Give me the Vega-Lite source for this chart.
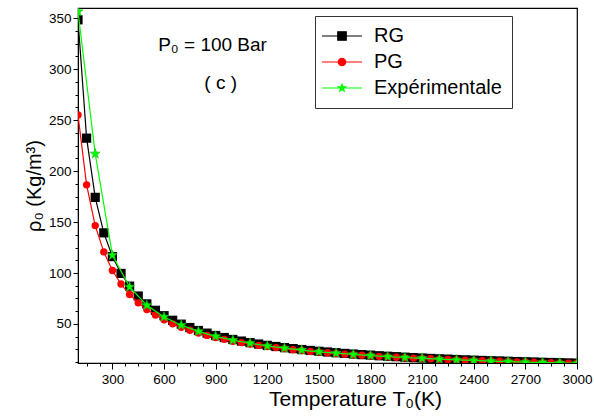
{
  "$schema": "https://vega.github.io/schema/vega-lite/v6.json",
  "width": 499,
  "height": 355,
  "autosize": {"type": "none"},
  "padding": {"left": 78, "top": 8, "right": 17, "bottom": 54},
  "background": "white",
  "config": {
    "view": {"stroke": "black", "strokeWidth": 1.2},
    "font": "Liberation Sans"
  },
  "datasets": {
    "rg": [
      {"T":100,"rho":348.4},{"T":150,"rho":232.3},{"T":200,"rho":174.2},{"T":250,"rho":139.4},{"T":300,"rho":116.1},
      {"T":350,"rho":99.6},{"T":400,"rho":87.1},{"T":450,"rho":77.4},{"T":500,"rho":69.7},{"T":550,"rho":63.4},
      {"T":600,"rho":58.1},{"T":650,"rho":53.6},{"T":700,"rho":49.8},{"T":750,"rho":46.5},{"T":800,"rho":43.6},
      {"T":850,"rho":41.0},{"T":900,"rho":38.7},{"T":950,"rho":36.7},{"T":1000,"rho":34.8},{"T":1050,"rho":33.2},
      {"T":1100,"rho":31.7},{"T":1150,"rho":30.3},{"T":1200,"rho":29.0},{"T":1250,"rho":27.9},{"T":1300,"rho":26.8},
      {"T":1350,"rho":25.8},{"T":1400,"rho":24.9},{"T":1450,"rho":24.0},{"T":1500,"rho":23.2},{"T":1550,"rho":22.5},
      {"T":1600,"rho":21.8},{"T":1650,"rho":21.1},{"T":1700,"rho":20.5},{"T":1750,"rho":19.9},{"T":1800,"rho":19.4},
      {"T":1850,"rho":18.8},{"T":1900,"rho":18.3},{"T":1950,"rho":17.9},{"T":2000,"rho":17.4},{"T":2050,"rho":17.0},
      {"T":2100,"rho":16.6},{"T":2150,"rho":16.2},{"T":2200,"rho":15.8},{"T":2250,"rho":15.5},{"T":2300,"rho":15.1},
      {"T":2350,"rho":14.8},{"T":2400,"rho":14.5},{"T":2450,"rho":14.2},{"T":2500,"rho":13.9},{"T":2550,"rho":13.7},
      {"T":2600,"rho":13.4},{"T":2650,"rho":13.1},{"T":2700,"rho":12.9},{"T":2750,"rho":12.7},{"T":2800,"rho":12.4},
      {"T":2850,"rho":12.2},{"T":2900,"rho":12.0},{"T":2950,"rho":11.8},{"T":3000,"rho":11.6}
    ],
    "pg": [
      {"T":100,"rho":255.0},{"T":150,"rho":186.5},{"T":200,"rho":146.5},{"T":250,"rho":120.7},{"T":300,"rho":102.5},
      {"T":350,"rho":89.2},{"T":400,"rho":78.9},{"T":450,"rho":70.7},{"T":500,"rho":64.1},{"T":550,"rho":58.7},
      {"T":600,"rho":54.1},{"T":650,"rho":50.1},{"T":700,"rho":46.7},{"T":750,"rho":43.8},{"T":800,"rho":41.2},
      {"T":850,"rho":38.8},{"T":900,"rho":36.7},{"T":950,"rho":34.9},{"T":1000,"rho":33.1},{"T":1050,"rho":31.7},
      {"T":1100,"rho":30.3},{"T":1150,"rho":29.0},{"T":1200,"rho":27.8},{"T":1250,"rho":26.8},{"T":1300,"rho":25.8},
      {"T":1350,"rho":24.8},{"T":1400,"rho":24.0},{"T":1450,"rho":23.1},{"T":1500,"rho":22.4},{"T":1550,"rho":21.7},
      {"T":1600,"rho":21.1},{"T":1650,"rho":20.4},{"T":1700,"rho":19.8},{"T":1750,"rho":19.3},{"T":1800,"rho":18.8},
      {"T":1850,"rho":18.2},{"T":1900,"rho":17.8},{"T":1950,"rho":17.4},{"T":2000,"rho":16.9},{"T":2050,"rho":16.5},
      {"T":2100,"rho":16.1},{"T":2150,"rho":15.8},{"T":2200,"rho":15.4},{"T":2250,"rho":15.1},{"T":2300,"rho":14.7},
      {"T":2350,"rho":14.4},{"T":2400,"rho":14.1},{"T":2450,"rho":13.9},{"T":2500,"rho":13.6},{"T":2550,"rho":13.4},
      {"T":2600,"rho":13.1},{"T":2650,"rho":12.8},{"T":2700,"rho":12.6},{"T":2750,"rho":12.4},{"T":2800,"rho":12.1},
      {"T":2850,"rho":11.9},{"T":2900,"rho":11.7},{"T":2950,"rho":11.6},{"T":3000,"rho":11.4}
    ],
    "exp": [
      {"T":100,"rho":356.5},{"T":200,"rho":217.0},{"T":300,"rho":117.5},{"T":400,"rho":86.3},{"T":500,"rho":68.3},
      {"T":600,"rho":56.9},{"T":700,"rho":48.8},{"T":800,"rho":42.7},{"T":900,"rho":37.9},{"T":1000,"rho":34.1},
      {"T":1100,"rho":31.1},{"T":1200,"rho":28.4},{"T":1300,"rho":26.3},{"T":1400,"rho":24.4},{"T":1500,"rho":22.7},
      {"T":1600,"rho":21.4},{"T":1700,"rho":20.1},{"T":1800,"rho":19.0},{"T":1900,"rho":17.9},{"T":2000,"rho":17.1},
      {"T":2100,"rho":16.3},{"T":2200,"rho":15.5},{"T":2300,"rho":14.8},{"T":2400,"rho":14.2},{"T":2500,"rho":13.6},
      {"T":2600,"rho":13.1},{"T":2700,"rho":12.6},{"T":2800,"rho":12.2},{"T":2900,"rho":11.8},{"T":3000,"rho":11.4}
    ],
    "notes": [
      {"T":882,"rho":318.2,"label":"P₀ = 100 Bar"},
      {"T":929,"rho":280.7,"label":"( c )"}
    ],
    "legendrows": []
  },
  "encoding": {
    "x": {
      "field": "T", "type": "quantitative",
      "scale": {"domain": [100, 3000], "nice": false, "zero": false},
      "axis": {
        "values": [150,225,300,375,450,525,600,675,750,825,900,975,1050,1125,1200,1275,1350,1425,1500,1575,1650,1725,1800,1875,1950,2025,2100,2175,2250,2325,2400,2475,2550,2625,2700,2775,2850,2925,3000],
        "labelExpr": "datum.value % 300 === 0 ? datum.label : ''",
        "format": "d",
        "grid": false,
        "tickSize": {"condition": {"test": "datum.value % 300 === 0", "value": 6}, "value": 3},
        "tickColor": "black",
        "domainColor": "black",
        "labelFont": "Liberation Sans",
        "labelFontSize": 13.5,
        "labelColor": "black",
        "labelPadding": 3,
        "labelFlush": false,
        "labelOverlap": false,
        "title": "Temperature T₀(K)",
        "titleFont": "Liberation Sans",
        "titleFontSize": 21,
        "titleFontWeight": "normal",
        "titleColor": "black",
        "titlePadding": 3,
        "titleX": 277,
        "titleAlign": "center"
      }
    },
    "y": {
      "field": "rho", "type": "quantitative",
      "scale": {"domain": [11.7, 360], "nice": false, "zero": false},
      "axis": {
        "values": [12.5,25,37.5,50,62.5,75,87.5,100,112.5,125,137.5,150,162.5,175,187.5,200,212.5,225,237.5,250,262.5,275,287.5,300,312.5,325,337.5,350],
        "labelExpr": "datum.value % 50 === 0 ? datum.label : ''",
        "grid": false,
        "tickSize": {"condition": {"test": "datum.value % 50 === 0", "value": 5}, "value": 3},
        "tickColor": "black",
        "domainColor": "black",
        "labelFont": "Liberation Sans",
        "labelFontSize": 13.5,
        "labelColor": "black",
        "labelPadding": 2,
        "labelFlush": false,
        "labelOverlap": false,
        "title": "ρ₀ (Kg/m³)",
        "titleFont": "Liberation Sans",
        "titleFontSize": 20,
        "titleFontWeight": "normal",
        "titleColor": "black",
        "titlePadding": 4
      }
    }
  },
  "layer": [
    {"data": {"name": "rg"}, "mark": {"type": "line", "color": "black", "strokeWidth": 1.2, "clip": true}},
    {"data": {"name": "rg"}, "mark": {"type": "point", "shape": "square", "filled": true, "color": "black", "size": 85, "opacity": 1, "clip": true}},
    {"data": {"name": "pg"}, "mark": {"type": "line", "color": "#ff0000", "strokeWidth": 1.2, "clip": true}},
    {"data": {"name": "pg"}, "mark": {"type": "point", "shape": "circle", "filled": true, "color": "#ff0000", "size": 55, "opacity": 1, "clip": true}},
    {"data": {"name": "exp"}, "mark": {"type": "line", "color": "#00ff00", "strokeWidth": 1.2, "clip": true}},
    {"data": {"name": "exp"}, "mark": {"type": "point", "shape": "M0,-1L0.235,-0.324L0.951,-0.309L0.38,0.124L0.588,0.809L0,0.4L-0.588,0.809L-0.38,0.124L-0.951,-0.309L-0.235,-0.324Z", "filled": true, "fill": "#00ff00", "stroke": "#11bb11", "strokeWidth": 0.6, "size": 110, "opacity": 1, "clip": true}},
    {"data": {"name": "notes"}, "mark": {"type": "text", "font": "Liberation Sans", "fontSize": 19, "color": "black", "baseline": "alphabetic", "align": "center"}, "encoding": {"text": {"field": "label"}}},
    {
      "data": {"name": "legendrows"},
      "mark": {"type": "point", "filled": true, "strokeWidth": 1.2, "opacity": 1},
      "encoding": {
        "fill": {"field": "s", "type": "nominal",
          "scale": {"domain": ["RG", "PG", "Expérimentale"], "range": ["black", "#ff0000", "#00ff00"]},
          "legend": {"orient": "none", "legendX": 237, "legendY": 8, "title": null, "padding": 10, "strokeColor": "#333333", "fillColor": "white", "labelFont": "Liberation Sans", "labelFontSize": 20, "labelColor": "black", "labelLimit": 300, "symbolSize": 100, "symbolStrokeWidth": 1.2, "rowPadding": 6, "symbolOffset": 7, "labelOffset": 22}},
        "stroke": {"field": "s", "type": "nominal",
          "scale": {"domain": ["RG", "PG", "Expérimentale"], "range": ["black", "#ff0000", "#00ff00"]},
          "legend": {"orient": "none", "legendX": 237, "legendY": 8, "title": null, "padding": 10, "strokeColor": "#333333", "fillColor": "white", "labelFont": "Liberation Sans", "labelFontSize": 20, "labelColor": "black", "labelLimit": 300, "symbolSize": 100, "symbolStrokeWidth": 1.2, "rowPadding": 6, "symbolOffset": 7, "labelOffset": 22}},
        "shape": {"field": "s", "type": "nominal",
          "scale": {"domain": ["RG", "PG", "Expérimentale"], "range": [
            "M-4,0H4M-0.85,-0.85H0.85V0.85H-0.85Z",
            "M-4,0H4M-0.75,0A0.75,0.75,0,1,1,0.75,0A0.75,0.75,0,1,1,-0.75,0Z",
            "M-4,0H4M0,-0.75L0.176,-0.243L0.713,-0.232L0.285,0.093L0.441,0.607L0,0.3L-0.441,0.607L-0.285,0.093L-0.713,-0.232L-0.176,-0.243Z"
          ]},
          "legend": {"orient": "none", "legendX": 237, "legendY": 8, "title": null, "padding": 10, "strokeColor": "#333333", "fillColor": "white", "labelFont": "Liberation Sans", "labelFontSize": 20, "labelColor": "black", "labelLimit": 300, "symbolSize": 100, "symbolStrokeWidth": 1.2, "rowPadding": 6, "symbolOffset": 7, "labelOffset": 22}}
      }
    }
  ]
}
